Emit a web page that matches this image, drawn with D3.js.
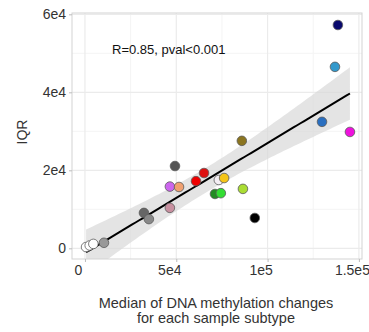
<!DOCTYPE html>
<html>
<head>
<meta charset="utf-8">
<script src="https://cdn.jsdelivr.net/npm/d3@7"></script>
<style>
  body { margin: 0; background: #fff; }
  text { font-family: "Liberation Sans", Arial, sans-serif; }
</style>
</head>
<body>
<div id="chart"></div>
<script>
// median methylation change per subtype (x) and IQR (y)
const medianChange = [138500, 136900, 129800, 145100, 85900, 49300, 65200, 60800, 46500, 51500,
  73300, 76200, 86500, 71200, 74400, 46500, 93000, 32300, 35000, 10400, 600, 2600, 4600];
const iqr = [57260, 46530, 32430, 29840, 27560, 21100, 19310, 17220, 15830, 15730,
  17520, 18020, 15240, 13940, 14140, 10370, 7780, 9080, 7490, 1420, 330, 730, 1130];
const pointColors = ['#0a0a6e', '#3399cc', '#2a6fc0', '#ee11dd', '#8b7520', '#555555', '#dd1111', '#ee0000',
  '#cc66ee', '#f0a070', '#f4eef4', '#f5c518', '#aadd33', '#228b22', '#33dd33', '#c890a0', '#000000',
  '#666666', '#888888', '#999999', '#ffffff', '#ffffff', '#ffffff'];
const xTicks = [0, 50000, 100000, 150000];
const xTickLabels = ['0', '5e4', '1e5', '1.5e5'];
const yTicks = [0, 20000, 40000, 60000];
const yTickLabels = ['0', '2e4', '4e4', '6e4'];
const statLabel = 'R=0.85, pval<0.001';

const W = 369, H = 332;
const margin = { top: 13, right: 7, bottom: 73, left: 72 };
const width = W - margin.left - margin.right;
const height = H - margin.top - margin.bottom;

const svg = d3.select('#chart').append('svg')
  .attr('width', W).attr('height', H);

const g = svg.append('g')
  .attr('transform', `translate(${margin.left}, ${margin.top})`);

const x = d3.scaleLinear().domain([-7100, 151700]).range([0, width]);
const y = d3.scaleLinear().domain([-2740, 60340]).range([height, 0]);

g.append('clipPath').attr('id', 'clip')
  .append('rect').attr('width', width).attr('height', height);

// grid, major and minor
const minorX = [25000, 75000, 125000];
const minorY = [10000, 30000, 50000];
const grid = g.append('g');
grid.selectAll('.mx').data(minorX).enter().append('line')
  .attr('x1', d => x(d)).attr('x2', d => x(d)).attr('y1', 0).attr('y2', height)
  .attr('stroke', '#f4f4f4').attr('stroke-width', 1);
grid.selectAll('.my').data(minorY).enter().append('line')
  .attr('y1', d => y(d)).attr('y2', d => y(d)).attr('x1', 0).attr('x2', width)
  .attr('stroke', '#f4f4f4').attr('stroke-width', 1);
grid.selectAll('.gx').data(xTicks).enter().append('line')
  .attr('x1', d => x(d)).attr('x2', d => x(d)).attr('y1', 0).attr('y2', height)
  .attr('stroke', '#ebebeb').attr('stroke-width', 1.2);
grid.selectAll('.gy').data(yTicks).enter().append('line')
  .attr('y1', d => y(d)).attr('y2', d => y(d)).attr('x1', 0).attr('x2', width)
  .attr('stroke', '#ebebeb').attr('stroke-width', 1.2);

// linear fit with 95% band
const n = medianChange.length;
const mx = d3.mean(medianChange), my = d3.mean(iqr);
let sxx = 0, sxy = 0;
for (let i = 0; i < n; i++) {
  sxx += (medianChange[i] - mx) ** 2;
  sxy += (medianChange[i] - mx) * (iqr[i] - my);
}
const slope = sxy / sxx, intercept = my - slope * mx;
let sse = 0;
for (let i = 0; i < n; i++) sse += (iqr[i] - intercept - slope * medianChange[i]) ** 2;
const se = Math.sqrt(sse / (n - 2));
const tq = 2.08;
const [xmin, xmax] = d3.extent(medianChange);
const fitPts = d3.range(0, 81).map(k => {
  const xv = xmin + (xmax - xmin) * k / 80;
  const fit = intercept + slope * xv;
  const half = tq * se * Math.sqrt(1 / n + (xv - mx) ** 2 / sxx);
  return { x: xv, fit, lo: fit - half, hi: fit + half };
});

const fitLayer = g.append('g').attr('clip-path', 'url(#clip)');
fitLayer.append('path').datum(fitPts)
  .attr('fill', '#d9d9d9').attr('opacity', 0.7)
  .attr('d', d3.area().x(d => x(d.x)).y0(d => y(d.lo)).y1(d => y(d.hi)));

// points
g.append('g').selectAll('circle')
  .data(medianChange.map((v, i) => ({ x: v, y: iqr[i], c: pointColors[i] })))
  .enter().append('circle')
  .attr('cx', d => x(d.x)).attr('cy', d => y(d.y)).attr('r', 4.8)
  .attr('fill', d => d.c).attr('stroke', '#5a5a5a').attr('stroke-width', 0.8);

fitLayer.append('path').datum(fitPts)
  .attr('fill', 'none').attr('stroke', '#000').attr('stroke-width', 2)
  .attr('d', d3.line().x(d => x(d.x)).y(d => y(d.fit)));

// panel border
g.append('rect').attr('width', width).attr('height', height)
  .attr('fill', 'none').attr('stroke', '#d3d3d3').attr('stroke-width', 1);

// axes
const xAxis = g.append('g').attr('transform', `translate(0, ${height})`)
  .call(d3.axisBottom(x).tickValues(xTicks).tickFormat((d, i) => xTickLabels[i]).tickSize(3).tickPadding(3));
const yAxis = g.append('g')
  .call(d3.axisLeft(y).tickValues(yTicks).tickFormat((d, i) => yTickLabels[i]).tickSize(3).tickPadding(3));
[xAxis, yAxis].forEach(a => {
  a.select('.domain').remove();
  a.selectAll('line').attr('stroke', '#bdbdbd');
  a.selectAll('text').attr('fill', '#333').attr('font-size', 14)
    .attr('font-family', '"Liberation Sans", Arial, sans-serif');
});
xAxis.selectAll('text').attr('dx', -7);

g.append('text').attr('x', 40).attr('y', 41)
  .attr('font-size', 13).attr('fill', '#111').text(statLabel);

svg.append('text')
  .attr('transform', `translate(27, 132) rotate(-90)`)
  .attr('text-anchor', 'middle').attr('font-size', 14).attr('fill', '#333').text('IQR');

svg.append('text').attr('x', 216).attr('y', 308)
  .attr('text-anchor', 'middle').attr('font-size', 14.5).attr('fill', '#333')
  .text('Median of DNA methylation changes');
svg.append('text').attr('x', 216).attr('y', 323)
  .attr('text-anchor', 'middle').attr('font-size', 14.5).attr('fill', '#333')
  .text('for each sample subtype');
</script>
</body>
</html>
